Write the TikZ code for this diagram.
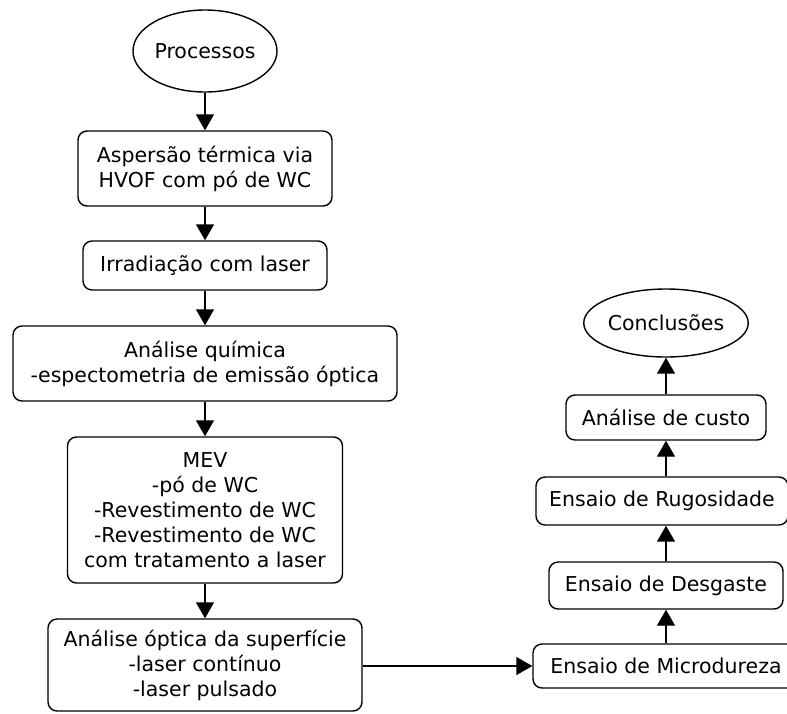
\documentclass[tikz,border=0pt]{standalone}
\usepackage{fontspec}
\setmainfont{DejaVu Sans}
\usetikzlibrary{shapes.geometric,arrows.meta}
\tikzset{
  base/.style={draw=black, line width=1.4pt, align=center, inner sep=0pt,
    font=\fontsize{20.5}{25}\selectfont},
  box/.style={base, rounded corners=9pt},
  oval/.style={base, ellipse},
  conn/.style={line width=1.4pt, -{Triangle[length=16pt,width=18pt]}},
}
\begin{document}
\begin{tikzpicture}[x=1pt,y=-1pt]
\useasboundingbox (0,0) rectangle (787,713);
\node[oval, minimum width=144pt, minimum height=82pt] (proc) at (205,51) {Processos};
\node[box, minimum width=254pt, minimum height=75pt] (b1) at (205,168.5) {Aspersão térmica via\\HVOF com pó de WC};
\node[box, minimum width=244pt, minimum height=49pt] (b2) at (205,265.5) {Irradiação com laser};
\node[box, minimum width=384pt, minimum height=75pt] (b3) at (205,363.5) {Análise química\\-espectometria de emissão óptica};
\node[box, minimum width=275pt, minimum height=146pt] (b4) at (205,510) {MEV\\-pó de WC\\-Revestimento de WC\\-Revestimento de WC\\com tratamento a laser};
\node[box, minimum width=314pt, minimum height=92pt] (b5) at (205,665) {Análise óptica da superfície\\-laser contínuo\\-laser pulsado};
\node[oval, minimum width=148pt, minimum height=68pt] (concl) at (666,323) {Conclusões};
\node[box, minimum width=200pt, minimum height=45pt] (r1) at (666,417.5) {Análise de custo};
\node[box, minimum width=252pt, minimum height=48pt] (r2) at (662,501) {Ensaio de Rugosidade};
\node[box, minimum width=234pt, minimum height=47pt] (r3) at (666,585.5) {Ensaio de Desgaste};
\node[box, minimum width=266pt, minimum height=44pt] (r4) at (666,666) {Ensaio de Microdureza};
\draw[conn] (proc.south) -- (b1.north);
\draw[conn] (b1.south) -- (b2.north);
\draw[conn] (b2.south) -- (b3.north);
\draw[conn] (b3.south) -- (b4.north);
\draw[conn] (b4.south) -- (b5.north);
\draw[conn] (b5.east |- r4.west) -- (r4.west);
\draw[conn] (r4.north) -- (r3.south);
\draw[conn] (r3.north) -- (r3.north |- r2.south);
\draw[conn] (r1.south |- r2.north) -- (r1.south);
\draw[conn] (r1.north) -- (concl.south);
\end{tikzpicture}
\end{document}
